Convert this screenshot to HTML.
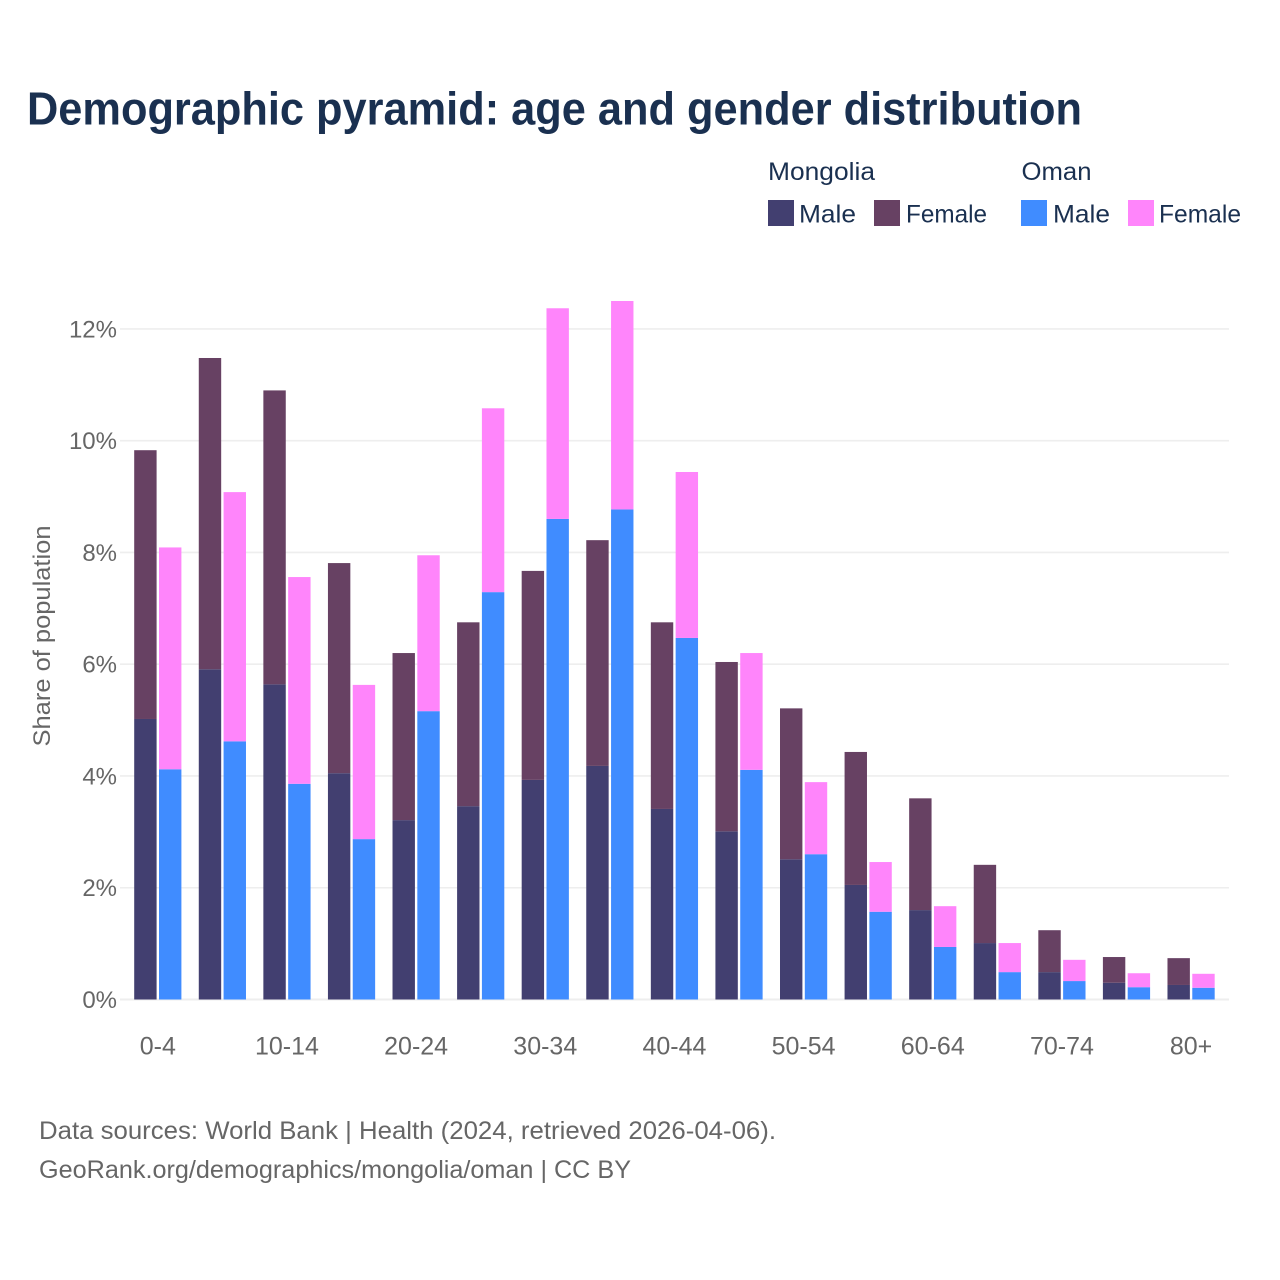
<!DOCTYPE html>
<html lang="en">
<head>
<meta charset="utf-8">
<title>Demographic pyramid: age and gender distribution</title>
<style>
html,body{margin:0;padding:0;background:#fff;}
svg{display:block;font-family:"Liberation Sans",sans-serif;}
</style>
</head>
<body>
<svg id="chart" xmlns="http://www.w3.org/2000/svg" width="1280" height="1280" viewBox="0 0 1280 1280">
  <rect x="0" y="0" width="1280" height="1280" fill="#ffffff"/>
  <text x="27" y="124.5" font-size="46" font-weight="700" fill="#1a3050" textLength="1055" lengthAdjust="spacingAndGlyphs">Demographic pyramid: age and gender distribution</text>

  <g font-size="25" fill="#1a3050">
    <text x="768" y="180" textLength="107" lengthAdjust="spacingAndGlyphs">Mongolia</text>
    <text x="1021.5" y="180" textLength="70" lengthAdjust="spacingAndGlyphs">Oman</text>
    <rect x="768" y="200" width="26" height="26" fill="#423f70"/>
    <text x="799" y="222.5" textLength="57" lengthAdjust="spacingAndGlyphs">Male</text>
    <rect x="874" y="200" width="26" height="26" fill="#674163"/>
    <text x="906" y="222.5" textLength="81" lengthAdjust="spacingAndGlyphs">Female</text>
    <rect x="1021" y="200" width="26" height="26" fill="#408cff"/>
    <text x="1053" y="222.5" textLength="57" lengthAdjust="spacingAndGlyphs">Male</text>
    <rect x="1128" y="200" width="26" height="26" fill="#ff85fb"/>
    <text x="1159" y="222.5" textLength="82" lengthAdjust="spacingAndGlyphs">Female</text>
  </g>

  <g id="grid"></g>
  <g id="yticks"></g>
  <g id="bars"></g>
  <g id="xticks"></g>

  <text transform="translate(50,636) rotate(-90)" text-anchor="middle" font-size="24" fill="#666666" textLength="221" lengthAdjust="spacingAndGlyphs">Share of population</text>

  <text x="39" y="1139" font-size="25" fill="#666666" textLength="737" lengthAdjust="spacingAndGlyphs">Data sources: World Bank | Health (2024, retrieved 2026-04-06).</text>
  <text x="39" y="1178" font-size="25" fill="#666666" textLength="592" lengthAdjust="spacingAndGlyphs">GeoRank.org/demographics/mongolia/oman | CC BY</text>
</svg>
<script>
const ageGroups = ["0-4","5-9","10-14","15-19","20-24","25-29","30-34","35-39","40-44","45-49","50-54","55-59","60-64","65-69","70-74","75-79","80+"];
const tickAgeGroups = ["0-4","10-14","20-24","30-34","40-44","50-54","60-64","70-74","80+"];
const yTicks = [0,2,4,6,8,10,12];
const mongoliaMale = [5.02,5.91,5.64,4.05,3.21,3.46,3.93,4.18,3.41,3.01,2.51,2.05,1.60,1.01,0.49,0.30,0.26];
const mongoliaFemale = [4.81,5.57,5.26,3.76,2.99,3.29,3.74,4.04,3.34,3.03,2.70,2.38,2.00,1.40,0.75,0.46,0.48];
const omanMale = [4.12,4.62,3.86,2.87,5.16,7.29,8.60,8.77,6.47,4.11,2.60,1.57,0.94,0.49,0.33,0.22,0.21];
const omanFemale = [3.97,4.46,3.70,2.76,2.79,3.29,3.77,3.73,2.97,2.09,1.29,0.89,0.73,0.52,0.38,0.25,0.25];

const SVG_NS = "http://www.w3.org/2000/svg";
const yScale = v => 999.5 - v * 55.88;
const groupX = i => 134.2 + i * 64.58;
const BAR_W = 22.4;
const OMAN_OFFSET = 24.8;

const grid = document.getElementById("grid");
const yticks = document.getElementById("yticks");
const bars = document.getElementById("bars");
const xticks = document.getElementById("xticks");

yTicks.forEach(t => {
  const line = document.createElementNS(SVG_NS, "line");
  
  
  line.setAttribute("x1", 120);
  line.setAttribute("x2", 1229);
  line.setAttribute("y1", yScale(t));
  line.setAttribute("y2", yScale(t));
  line.setAttribute("stroke", "#eeeeee");
  line.setAttribute("stroke-width", t === 0 ? 2 : 1.6);
  grid.appendChild(line);

  const label = document.createElementNS(SVG_NS, "text");
  
  
  label.setAttribute("x", 117);
  label.setAttribute("y", yScale(t) + 8.5);
  label.setAttribute("text-anchor", "end");
  label.setAttribute("font-size", 24);
  label.setAttribute("fill", "#666666");
  label.textContent = t + "%";
  yticks.appendChild(label);
});

function addBar(x, v0, v1, color, name) {
  const r = document.createElementNS(SVG_NS, "rect");
  
  
  r.setAttribute("x", x);
  r.setAttribute("y", yScale(v1));
  r.setAttribute("width", BAR_W);
  r.setAttribute("height", yScale(v0) - yScale(v1));
  r.setAttribute("fill", color);
  bars.appendChild(r);
}

ageGroups.forEach((g, i) => {
  const x = groupX(i);
  addBar(x, 0, mongoliaMale[i], "#423f70", "bar-mongolia-male");
  addBar(x, mongoliaMale[i], mongoliaMale[i] + mongoliaFemale[i], "#674163", "bar-mongolia-female");
  addBar(x + OMAN_OFFSET, 0, omanMale[i], "#408cff", "bar-oman-male");
  addBar(x + OMAN_OFFSET, omanMale[i], omanMale[i] + omanFemale[i], "#ff85fb", "bar-oman-female");
});

tickAgeGroups.forEach(g => {
  const i = ageGroups.indexOf(g);
  const label = document.createElementNS(SVG_NS, "text");
  
  
  label.setAttribute("x", groupX(i) + (BAR_W + OMAN_OFFSET) / 2);
  label.setAttribute("y", 1054.5);
  label.setAttribute("text-anchor", "middle");
  label.setAttribute("font-size", 25);
  label.setAttribute("fill", "#666666");
  label.textContent = g;
  xticks.appendChild(label);
});
</script>
</body>
</html>
